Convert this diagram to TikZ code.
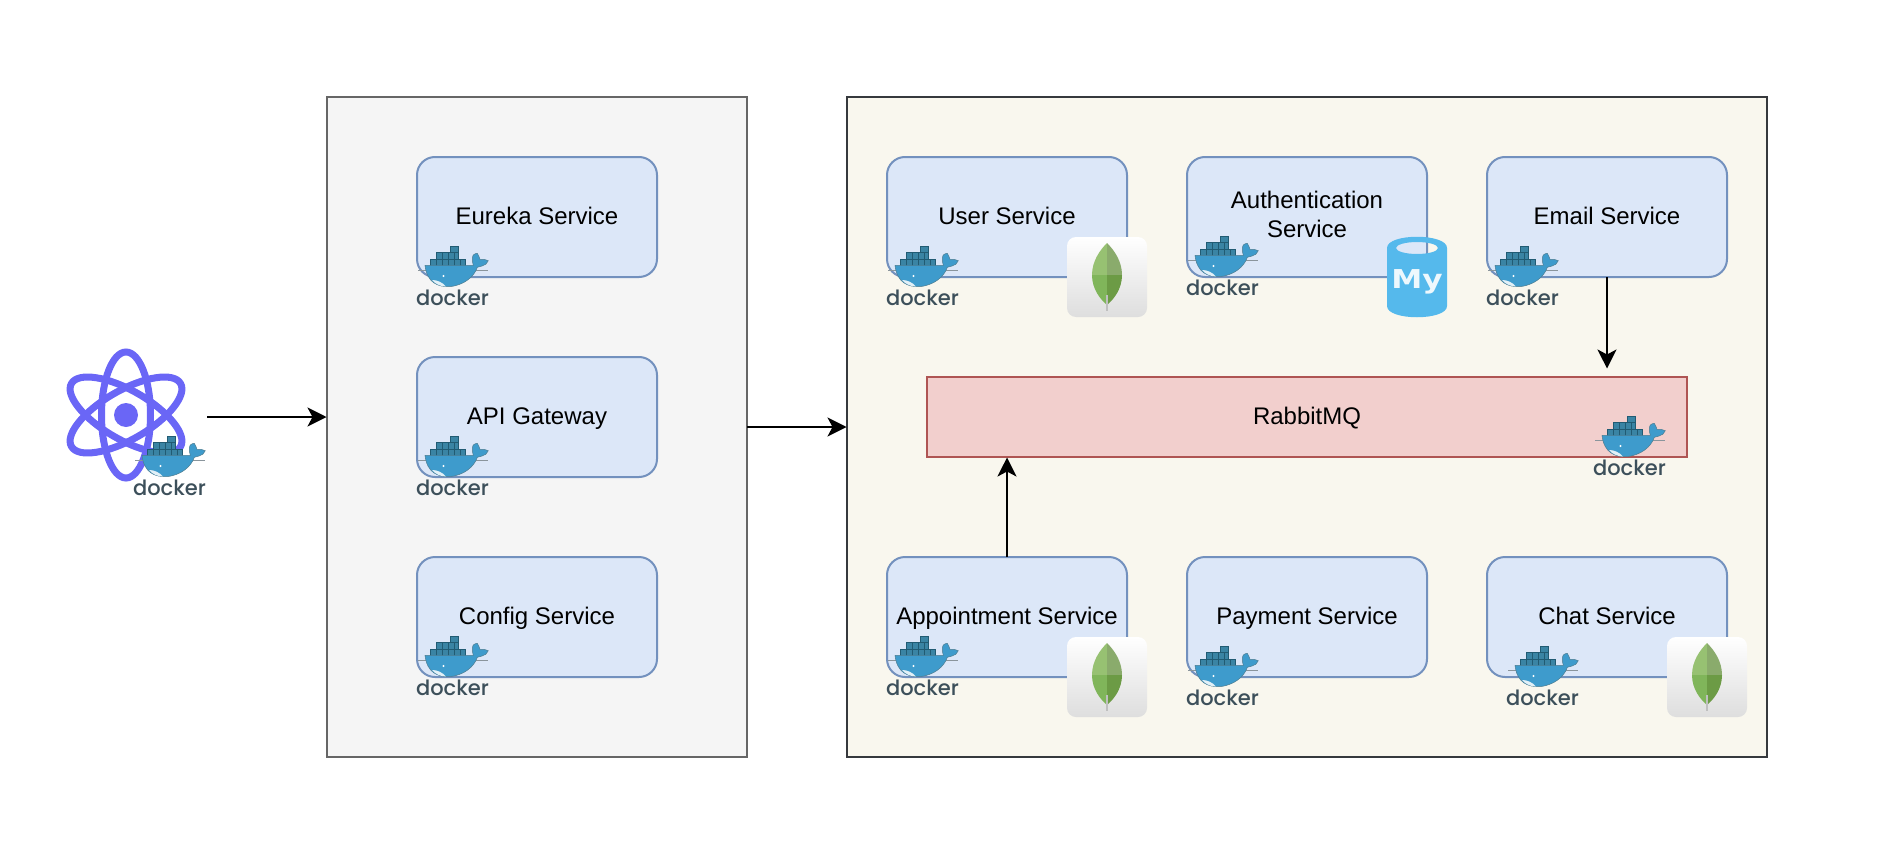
\documentclass[tikz,border=0pt]{standalone}
\usepackage{fontspec}
\setmainfont{Liberation Sans}
\newfontfamily\dockerfont[UprightFont={* Medium}]{Poppins}
\newfontfamily\mysqlfont[FakeStretch=1.2]{DejaVu Sans}
\usetikzlibrary{arrows.meta}
\definecolor{panelgrey}{HTML}{F5F5F5}
\definecolor{panelgreyline}{HTML}{666666}
\definecolor{panelcream}{HTML}{F9F7EE}
\definecolor{panelcreamline}{HTML}{36393D}
\definecolor{boxblue}{HTML}{DCE7F8}
\definecolor{boxblueline}{HTML}{7391BE}
\definecolor{boxred}{HTML}{F2CFCD}
\definecolor{boxredline}{HTML}{AF5553}
\definecolor{reactviolet}{HTML}{6A66F6}
\definecolor{whaleblue}{HTML}{3E9BCC}
\definecolor{crateblue}{HTML}{3A84A4}
\definecolor{crateline}{HTML}{215B73}
\definecolor{dockergrey}{HTML}{3C4F5A}
\definecolor{mysqlblue}{HTML}{55B9EC}
\definecolor{leaflt}{HTML}{97C172}
\definecolor{leafrt}{HTML}{8AAB6C}
\definecolor{leaflb}{HTML}{80B55A}
\definecolor{leafrb}{HTML}{6C9B45}
\tikzset{
  dockerlogo/.pic={
    \filldraw[fill=crateblue,draw=crateline,line width=0.7pt] (34.7,0) rectangle (42,12);
    \filldraw[fill=crateblue,draw=crateline,line width=0.7pt] (20.7,6.5) rectangle (42.3,14);
    \filldraw[fill=crateblue,draw=crateline,line width=0.7pt] (14.7,13) rectangle (49,20);
    \draw[crateline,line width=0.7pt] (20,13) -- (20,20) (26,7) -- (26,20) (32,7) -- (32,20) (38,7) -- (38,20) (44,13) -- (44,20);
    \draw[dockergrey!60,line width=0.8pt] (2,24) -- (72,24);
    \filldraw[fill=whaleblue,draw=crateline!80,line width=0.5pt] (9,19.3) -- (57.3,19.3) .. controls (56,15) and (56,11) .. (57.3,9)
      .. controls (59,8) and (60,7) .. (61.3,7.3) .. controls (63,9) and (63,12) .. (64,13.3)
      .. controls (67,13) and (70,13.5) .. (72.3,14.7) .. controls (71,18) and (69,19) .. (66,20)
      .. controls (64,21) and (63,21) .. (61.3,21.3) .. controls (58,31) and (48,39) .. (34,40.7)
      .. controls (22,41) and (11,37) .. (9,19.3) -- cycle;
    \fill[white!85!whaleblue] (16,34) .. controls (21,34) and (26,36) .. (30,40.5)
      .. controls (25,40.5) and (19,38) .. (16,34) -- cycle;
    \fill[white] (27.5,30) circle (1.2pt);
    \node[font=\dockerfont\fontsize{21}{21}\selectfont,text=dockergrey,anchor=base,inner sep=0pt] (-word) at (36.5,59) {docker};
  },
  mongotile/.pic={
    \shade[rounded corners=9pt,top color=white,bottom color=black!13] (0,0) rectangle (80,80);
    \fill[leaflt] (40,6) .. controls (33,13) and (25,24) .. (25,38) -- (40,38) -- cycle;
    \fill[leafrt] (40,6) .. controls (47,13) and (55,24) .. (55,38) -- (40,38) -- cycle;
    \fill[leaflb] (25,38) .. controls (25,52) and (33,62) .. (40,68) -- (40,38) -- cycle;
    \fill[leafrb] (55,38) .. controls (55,52) and (47,62) .. (40,68) -- (40,38) -- cycle;
    \draw[black!25,line width=2pt] (40,58) -- (40,74);
  },
  mysqllogo/.pic={
    \fill[mysqlblue,even odd rule] (0,11) .. controls (0,-4) and (60,-4) .. (60,11) -- (60,69)
      .. controls (60,84) and (0,84) .. (0,69) -- cycle
      (30,11) ellipse [x radius=21pt,y radius=6pt];
    \node[font=\mysqlfont\bfseries\fontsize{26}{26}\selectfont,text=white!90!mysqlblue,anchor=base,inner sep=0pt] (-word) at (30,51) {My};
  }
}
\begin{document}
\begin{tikzpicture}[x=1pt,y=-1pt,>={Stealth[length=19pt,width=19pt,inset=5pt]},
  panel node/.style={rectangle,line width=2pt,outer sep=0pt,minimum height=660pt},
  service node/.style={rectangle,rounded corners=18pt,draw=boxblueline,fill=boxblue,line width=2pt,outer sep=0pt,
    minimum width=240pt,minimum height=120pt,align=center,font=\fontsize{24}{29}\selectfont,text height=17pt,text depth=3pt},
  link/.style={->,shorten >=0.5pt,line width=2pt,black}]

  \useasboundingbox (0,0) rectangle (1894,856);

  \node[panel node,draw=panelgreyline,fill=panelgrey,minimum width=420pt] (infra) at (537,427) {};
  \node[panel node,draw=panelcreamline,fill=panelcream,minimum width=920pt] (apps) at (1307,427) {};

  \node[service node] (eureka) at (537,217) {Eureka Service};
  \node[service node] (gateway) at (537,417) {API Gateway};
  \node[service node] (config) at (537,617) {Config Service};
  \node[service node] (user) at (1007,217) {User Service};
  \node[service node,text height=46pt,text depth=6pt] (auth) at (1307,217) {Authentication\\Service};
  \node[service node] (email) at (1607,217) {Email Service};
  \node[service node] (appointment) at (1007,617) {Appointment Service};
  \node[service node] (payment) at (1307,617) {Payment Service};
  \node[service node] (chat) at (1607,617) {Chat Service};
  \node[rectangle,draw=boxredline,fill=boxred,line width=2pt,outer sep=0pt,minimum width=760pt,minimum height=80pt,
    font=\fontsize{24}{29}\selectfont,text height=17pt,text depth=3pt] (rabbit) at (1307,417) {RabbitMQ};

  \draw[reactviolet,line width=7pt] (126,415) ellipse [x radius=24.5pt,y radius=63pt];
  \draw[reactviolet,line width=7pt,rotate around={60:(126,415)}] (126,415) ellipse [x radius=24.5pt,y radius=63pt];
  \draw[reactviolet,line width=7pt,rotate around={-60:(126,415)}] (126,415) ellipse [x radius=24.5pt,y radius=63pt];
  \fill[reactviolet] (126,415) circle (12pt);

  \pic (dockerclient) at (133,436) {dockerlogo};
  \pic (dockereureka) at (416,246) {dockerlogo};
  \pic (dockergateway) at (416,436) {dockerlogo};
  \pic (dockerconfig) at (416,636) {dockerlogo};
  \pic (dockeruser) at (886,246) {dockerlogo};
  \pic (dockerauth) at (1186,236) {dockerlogo};
  \pic (dockeremail) at (1486,246) {dockerlogo};
  \pic (dockerappointment) at (886,636) {dockerlogo};
  \pic (dockerpayment) at (1186,646) {dockerlogo};
  \pic (dockerchat) at (1506,646) {dockerlogo};
  \pic (dockerrabbit) at (1593,416) {dockerlogo};

  \pic at (1067,237) {mongotile};
  \pic at (1067,637) {mongotile};
  \pic at (1667,637) {mongotile};
  \pic (mysql) at (1387,237) {mysqllogo};

  \coordinate (clientout) at (207,417);
  \coordinate (rabbitin) at (1607,369);

  \draw[link] (clientout) -- (clientout -| infra.west);
  \draw[link] (infra.east) -- (apps.west);
  \draw[link] (email.south) -- (rabbitin);
  \draw[link] (appointment.north) -- (appointment.north |- rabbit.south);
\end{tikzpicture}
\end{document}
